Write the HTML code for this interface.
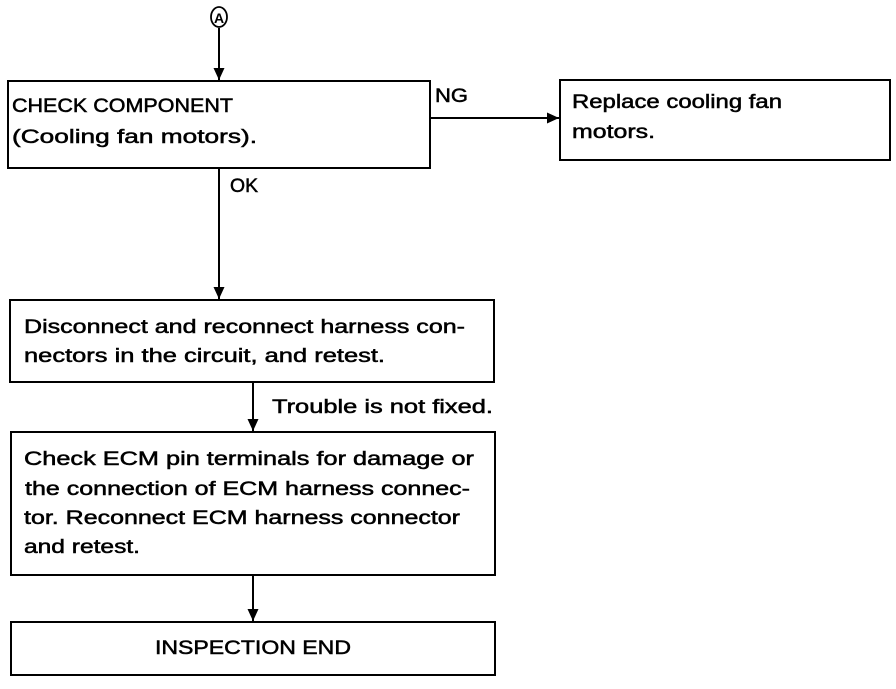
<!DOCTYPE html>
<html><head><meta charset="utf-8"><style>html,body{margin:0;padding:0;background:#fff}</style></head>
<body>
<svg width="896" height="684" xmlns="http://www.w3.org/2000/svg" font-family="Liberation Sans, sans-serif" font-size="19" fill="#000">
<defs><marker id="a" markerWidth="12" markerHeight="16" refX="12" refY="7" orient="auto" markerUnits="userSpaceOnUse"><path d="M0,1.5 L12,7 L0,12.5 Z" fill="#000"/></marker></defs>
<g fill="none" stroke="#000" stroke-width="2">
<ellipse cx="219" cy="17" rx="8" ry="10" stroke-width="1.8"/>
<rect x="8" y="81" width="422" height="87"/>
<rect x="560" y="80" width="330" height="80"/>
<rect x="10" y="300" width="484" height="82"/>
<rect x="11" y="432" width="484" height="143"/>
<rect x="11" y="622" width="484" height="53"/>
<line x1="219" y1="28" x2="219" y2="80" marker-end="url(#a)"/>
<line x1="430" y1="118" x2="559" y2="118" marker-end="url(#a)"/>
<line x1="219" y1="168" x2="219" y2="299" marker-end="url(#a)"/>
<line x1="253" y1="382" x2="253" y2="431" marker-end="url(#a)"/>
<line x1="253" y1="575" x2="253" y2="621" marker-end="url(#a)"/>
</g>
<g stroke="#000" stroke-width="0.5">
<text x="214" y="23" font-size="14" font-weight="bold" stroke="none">A</text>
<text x="12" y="112" textLength="221" lengthAdjust="spacingAndGlyphs">CHECK COMPONENT</text>
<text x="12" y="143" textLength="245" lengthAdjust="spacingAndGlyphs">(Cooling fan motors).</text>
<text x="435" y="102" textLength="33" lengthAdjust="spacingAndGlyphs">NG</text>
<text x="230" y="192" textLength="28" lengthAdjust="spacingAndGlyphs">OK</text>
<text x="572" y="108" textLength="210" lengthAdjust="spacingAndGlyphs">Replace cooling fan</text>
<text x="572" y="138" textLength="83" lengthAdjust="spacingAndGlyphs">motors.</text>
<text x="24" y="333" textLength="441" lengthAdjust="spacingAndGlyphs">Disconnect and reconnect harness con-</text>
<text x="24" y="362" textLength="361" lengthAdjust="spacingAndGlyphs">nectors in the circuit, and retest.</text>
<text x="272" y="413" textLength="221" lengthAdjust="spacingAndGlyphs">Trouble is not fixed.</text>
<text x="24" y="465" textLength="450" lengthAdjust="spacingAndGlyphs">Check ECM pin terminals for damage or</text>
<text x="25" y="495" textLength="445" lengthAdjust="spacingAndGlyphs">the connection of ECM harness connec-</text>
<text x="24" y="524" textLength="436" lengthAdjust="spacingAndGlyphs">tor. Reconnect ECM harness connector</text>
<text x="24" y="553" textLength="116" lengthAdjust="spacingAndGlyphs">and retest.</text>
<text x="155" y="654" textLength="196" lengthAdjust="spacingAndGlyphs">INSPECTION END</text>
</g>
</svg>
</body></html>
